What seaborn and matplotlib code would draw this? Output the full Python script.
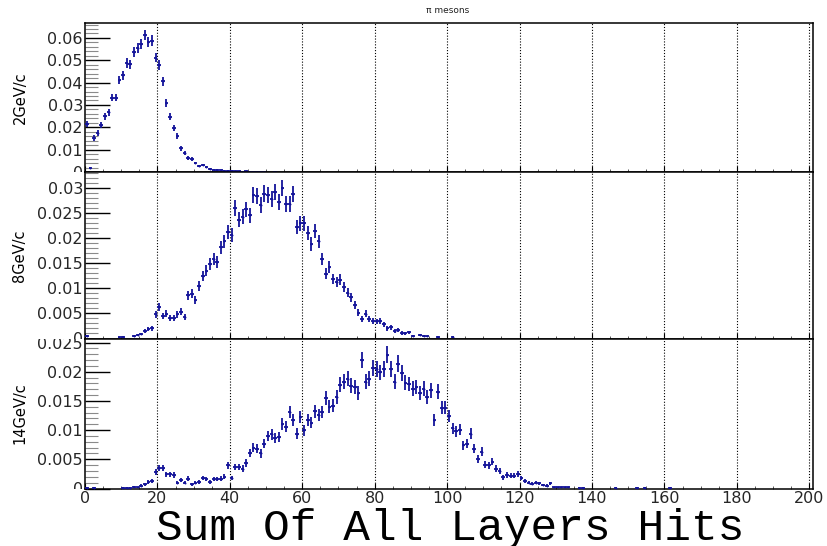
import numpy as np
import pandas as pd
import matplotlib
matplotlib.use("Agg")
import matplotlib.pyplot as plt
import seaborn as sns
from matplotlib.ticker import MultipleLocator, FuncFormatter
from matplotlib.transforms import Bbox, TransformedBbox

# ---------------- data ----------------
panel_labels = ["2GeV/c", "8GeV/c", "14GeV/c"]
title_text = "π mesons"
x_label = "Sum Of All Layers Hits"
x_tick_values = [0, 20, 40, 60, 80, 100, 120, 140, 160, 180, 200]

# normalised counts per bin (bin width 1, bins start at 0)
hits_2gev = [
    0.0216, 0.0018, 0.0152, 0.0174, 0.0211, 0.0249, 0.0268, 0.0333, 0.0333, 0.0412,
    0.0433, 0.0487, 0.0482, 0.0536, 0.0554, 0.0571, 0.0613, 0.0583, 0.0588, 0.0512,
    0.0479, 0.0405, 0.0308, 0.0248, 0.0197, 0.0162, 0.0106, 0.0085, 0.0062, 0.0058,
    0.0040, 0.0026, 0.0031, 0.0021, 0.0014, 0.0011, 0.0009, 0.0008, 0.0006, 0.0005,
    0.0005, 0.0003, 0.0003, 0.0002, 0.0003, 0.0002, 0.0002, 0.0001, 0.0002, 0.0001,
    0.0, 0.0, 0.0001,
]

hits_8gev = [
    0.0005, 0, 0, 0, 0, 0, 0, 0, 0, 0.0002,
    0.0003, 0, 0, 0.0005, 0.0007, 0.0009, 0.0015, 0.0018, 0.0020, 0.0048,
    0.0063, 0.0045, 0.0049, 0.0041, 0.0041, 0.0048, 0.0053, 0.0043, 0.0086, 0.0089,
    0.0076, 0.0105, 0.0124, 0.0135, 0.0148, 0.0158, 0.0152, 0.0181, 0.0193, 0.0211,
    0.0206, 0.0259, 0.0236, 0.0242, 0.0257, 0.0245, 0.0285, 0.0284, 0.0266, 0.0288,
    0.0285, 0.0278, 0.0291, 0.0272, 0.0299, 0.0268, 0.0268, 0.0287, 0.0221, 0.0229,
    0.0229, 0.0209, 0.0188, 0.0214, 0.0193, 0.0158, 0.0129, 0.0142, 0.0118, 0.0112,
    0.0117, 0.0102, 0.0091, 0.0082, 0.0066, 0.0051, 0.0039, 0.0049, 0.0038, 0.0035,
    0.0034, 0.0035, 0.0028, 0.0020, 0.0022, 0.0015, 0.0017, 0.0011, 0.0010, 0.0012,
    0.0005, 0, 0.0007, 0.0005, 0.0004, 0, 0, 0.0003, 0, 0,
    0, 0.0003,
]

hits_14gev = [
    0.0001, 0, 0.0001, 0, 0, 0, 0, 0, 0, 0,
    0.0001, 0.0001, 0.0001, 0.0003, 0.0002, 0.0005, 0.0007, 0.0011, 0.0013, 0.0029,
    0.0035, 0.0035, 0.0024, 0.0024, 0.0023, 0.0010, 0.0014, 0.0010, 0.0017, 0.0007,
    0.0010, 0.0011, 0.0018, 0.0016, 0.0011, 0.0016, 0.0016, 0.0017, 0.0020, 0.0040,
    0.0018, 0.0037, 0.0037, 0.0034, 0.0044, 0.0061, 0.0070, 0.0068, 0.0060, 0.0077,
    0.0090, 0.0093, 0.0086, 0.0088, 0.0110, 0.0106, 0.0131, 0.0117, 0.0094, 0.0123,
    0.0100, 0.0117, 0.0113, 0.0132, 0.0126, 0.0131, 0.0155, 0.0140, 0.0142, 0.0157,
    0.0178, 0.0183, 0.0188, 0.0176, 0.0174, 0.0163, 0.0220, 0.0183, 0.0188, 0.0207,
    0.0205, 0.0199, 0.0205, 0.0229, 0.0204, 0.0183, 0.0214, 0.0198, 0.0181, 0.0179,
    0.0171, 0.0174, 0.0163, 0.0171, 0.0157, 0.0168, 0.0117, 0.0166, 0.0138, 0.0138,
    0.0124, 0.0103, 0.0098, 0.0101, 0.0074, 0.0077, 0.0094, 0.0068, 0.0051, 0.0063,
    0.0041, 0.0040, 0.0046, 0.0034, 0.0030, 0.0019, 0.0023, 0.0022, 0.0022, 0.0025,
    0.0018, 0.0013, 0.0010, 0.0008, 0.0010, 0.0009, 0.0006, 0.0005, 0.0009, 0.0002,
    0.0002, 0.0002, 0.0002, 0.0002, 0, 0, 0.0001, 0.0001, 0, 0,
    0, 0, 0, 0, 0, 0, 0.0001, 0, 0, 0,
    0, 0, 0.0001, 0, 0.0001, 0, 0, 0, 0, 0,
    0, 0.0001,
]

# estimated number of entries used for the statistical error bars
n_entries = 11000

series = [hits_2gev, hits_8gev, hits_14gev]
y_max = [0.0669, 0.0331, 0.0257]
y_major = [0.01, 0.005, 0.005]
y_minor = [0.002, 0.001, 0.001]

# ---------------- style ----------------
sns.set_theme(style="white")
plt.rcParams["font.family"] = ["DejaVu Sans"]
BLUE = "#14149a"

W, H = 827, 546
fig = plt.figure(figsize=(W / 100, H / 100), dpi=100)

left_px, right_px = 85, 812.9
panel_px = [(22.5, 172.0), (172.0, 338.5), (338.5, 488.5)]

fmt = FuncFormatter(lambda v, p: "%g" % round(v, 6))

for i, (vals, (top_px, bot_px)) in enumerate(zip(series, panel_px)):
    ax = fig.add_axes([left_px / W, 1 - bot_px / H,
                       (right_px - left_px) / W, (bot_px - top_px) / H])
    df = pd.DataFrame({"x": np.arange(len(vals)) + 0.5, "y": vals})
    df = df[df["y"] > 0].reset_index(drop=True)
    err = np.sqrt(df["y"] / n_entries)

    for g in x_tick_values[1:]:
        ax.axvline(g, color="black", ls=(0, (1, 1.6)), lw=0.8, zorder=0)

    ax.errorbar(df["x"], df["y"], yerr=err, xerr=0.5, fmt="none",
                ecolor=BLUE, elinewidth=1.3, capsize=0, zorder=3)
    sns.scatterplot(data=df, x="x", y="y", ax=ax, s=2, color=BLUE,
                    linewidth=0, legend=False, zorder=4)

    ax.set_xlim(0, 201)
    ax.set_ylim(0, y_max[i])
    ax.set_xlabel("")
    ax.set_ylabel("")
    for sp in ax.spines.values():
        sp.set_visible(True)
        sp.set_color("black")
        sp.set_linewidth(1.1)

    ax.xaxis.set_major_locator(MultipleLocator(20))
    ax.xaxis.set_minor_locator(MultipleLocator(5))
    ax.xaxis.set_major_formatter(FuncFormatter(lambda v, p: "%d" % v))
    ax.yaxis.set_major_locator(MultipleLocator(y_major[i]))
    ax.yaxis.set_minor_locator(MultipleLocator(y_minor[i]))
    ax.yaxis.set_major_formatter(fmt)

    ax.tick_params(axis="x", which="major", direction="in", length=4, width=0.8,
                   color="black", bottom=True, top=False,
                   labelbottom=(i == 2), labelsize=11.5, pad=1.5)
    ax.tick_params(axis="x", which="minor", direction="in", length=2.2, width=0.7,
                   color="#555555", bottom=True, top=False)
    ax.tick_params(axis="y", which="major", direction="in", length=18, width=1.0,
                   color="black", left=True, right=False, labelsize=11.5, pad=1.5)
    ax.tick_params(axis="y", which="minor", direction="in", length=9, width=0.8,
                   color="#8a8a8a", left=True, right=False)

    # clip y tick labels to the pad like ROOT does
    clip = TransformedBbox(Bbox([[0, 1 - bot_px / H], [1, 1 - top_px / H]]),
                           fig.transFigure)
    for t in ax.yaxis.get_major_ticks():
        t.label1.set_clip_box(clip)
        t.label1.set_clip_on(True)

    fig.text(20 / W, 1 - (top_px + bot_px) / 2 / H, panel_labels[i],
             rotation=90, ha="center", va="center", fontsize=10.5, color="black")

fig.text(450 / W, 1 - 540 / H, x_label,
         family=["Liberation Mono", "DejaVu Sans Mono"],
         fontsize=32, ha="center", va="baseline", color="black")
fig.text(447.5 / W, 1 - 10.5 / H, title_text, fontsize=6.5, ha="center",
         va="center", color="#222222")

fig.savefig("out.png", dpi=100)
